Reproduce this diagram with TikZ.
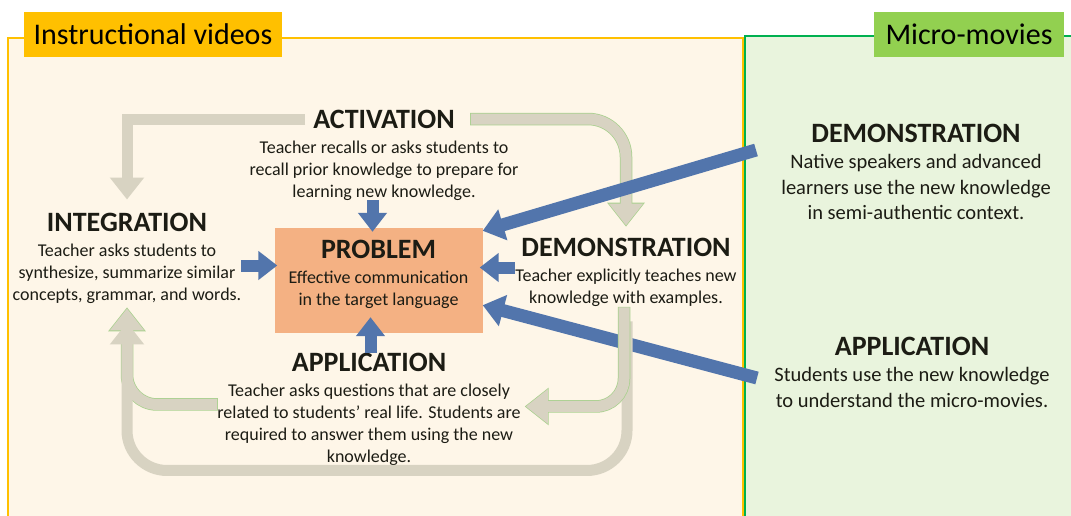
\documentclass[tikz,border=0pt]{standalone}
\usepackage{fontspec}
\setmainfont{Carlito}
\usetikzlibrary{arrows.meta,positioning}

\definecolor{framegold}{RGB}{255,192,0}
\definecolor{framegreen}{RGB}{0,176,80}
\definecolor{labelgreen}{RGB}{146,208,80}
\definecolor{videobg}{RGB}{254,246,232}
\definecolor{moviebg}{RGB}{233,244,221}
\definecolor{probfill}{RGB}{244,177,131}
\definecolor{loopgray}{RGB}{216,211,194}
\definecolor{loopedge}{RGB}{169,209,142}
\definecolor{pushblue}{RGB}{82,117,172}
\definecolor{ink}{RGB}{28,28,20}

\begin{document}
\begin{tikzpicture}[
  x = 1pt, y = -1pt,
  node distance = 12pt and 12pt,
  stagehead/.style = {inner sep=0pt, text=ink,
                      font=\fontsize{28}{30}\selectfont\bfseries},
  stagetext/.style = {inner sep=0pt, text=ink, align=center,
                      font=\fontsize{18}{22}\selectfont},
  movietext/.style = {inner sep=0pt, text=ink, align=center,
                      font=\fontsize{20.5}{25.5}\selectfont},
  paneltab/.style  = {minimum height=45pt, inner sep=0pt, text=black,
                      font=\fontsize{30}{32}\selectfont},
  loopline/.style  = {draw=loopgray, line width=11pt,
                      -{Triangle[length=22pt,width=33pt]}},
  edged/.style     = {preaction={draw=loopedge, line width=12.5pt,
                      shorten >=-1.2pt, shorten <=-0.7pt,
                      -{Triangle[length=24pt,width=36pt]}}},
  push/.style      = {draw=pushblue, line width=12pt,
                      -{Triangle[length=19pt,width=28pt]}},
  longpush/.style  = {draw=pushblue, line width=13pt,
                      -{Triangle[length=21pt,width=31pt]}}
]
\useasboundingbox (0,0) rectangle (1071,515);
\clip (0,0) rectangle (1071,515);
\fill[white] (0,0) rectangle (1071,515);

% the two panels
\fill[videobg] (8,38) rectangle (743,530);
\draw[framegold, line width=2.5pt] (8,530) -- (8,38) -- (743,38) -- (743,530);
\fill[moviebg] (745,36) rectangle (1080,530);
\draw[framegreen, line width=2pt] (745,530) -- (745,36) -- (1080,36);

\node[paneltab, fill=framegold, minimum width=258pt] (videotab) at (153,34.5) {Instructional videos};
\node[paneltab, fill=labelgreen, minimum width=190pt] (movietab) at (969,34) {Micro-movies};

% problem box in the middle
\node[fill=probfill, minimum width=208pt, minimum height=105pt, inner sep=0pt] (problem) at (378.5,280.5) {};
\node[stagehead] (probhead) at (378.5,249) {PROBLEM};
\node[stagetext, below=of probhead] (probtext) {Effective communication\\in the target language};

% stages round it
\node[stagehead] (activ) at (384,119) {ACTIVATION};
\node[stagetext, below=of activ] (activtext) {Teacher recalls or asks students to\\recall prior knowledge to prepare for\\learning new knowledge.};
\node[stagehead] (integ) at (127,222) {INTEGRATION};
\node[stagetext, below=of integ] (integtext) {Teacher asks students to\\synthesize, summarize similar\\concepts, grammar, and words.};
\node[stagehead] (demo) at (626,247) {DEMONSTRATION};
\node[stagetext, below=of demo] (demotext) {Teacher explicitly teaches new\\knowledge with examples.};
\node[stagehead] (appl) at (369,362) {APPLICATION};
\node[stagetext, below=of appl] (appltext) {Teacher asks questions that are closely\\related to students’ real life. Students are\\required to answer them using the new\\knowledge.};

% micro-movie stages
\node[stagehead] (mdemo) at (916,133) {DEMONSTRATION};
\node[movietext, below=of mdemo] (mdemotext) {Native speakers and advanced\\learners use the new knowledge\\in semi-authentic context.};
\node[stagehead] (mappl) at (912,346) {APPLICATION};
\node[movietext, below=of mappl] (mappltext) {Students use the new knowledge\\to understand the micro-movies.};

\coordinate (mdemotail) at (756,150);
\coordinate (mappltail) at (757,378);

\draw[longpush] (mappltail) -- ([yshift=28pt]problem.south east);

% the cycle
\draw[loopline] ([xshift=-8pt]activ.west) -| ([yshift=13pt]integ.north);
\draw[loopline, edged, rounded corners=38pt] ([xshift=16pt]activ.east) -| ([yshift=12pt]demo.north);
\draw[loopline, edged, rounded corners=30pt] ([yshift=20pt]appltext.west) -| ([yshift=-5pt]integtext.south);
\draw[loopline, rounded corners=40pt] ([xshift=1pt,yshift=-15pt]demotext.south) -- ++(0,149) -| ([yshift=-19pt]integtext.south);
\draw[loopline, edged, rounded corners=28pt] ([xshift=-2pt,yshift=-1pt]demotext.south) |- ([xshift=5pt,yshift=18pt]appltext.east);

% everything feeds the problem
\draw[longpush] (mdemotail) -- ([yshift=-3pt]problem.north east);
\draw[push] ([xshift=-6pt]problem.north |- activtext.south) -- ([xshift=-6pt,yshift=-4pt]problem.north);
\draw[push] ([yshift=15pt]problem.west -| integtext.east) -- ([yshift=15pt,xshift=3pt]problem.west);
\draw[push] ([yshift=13pt]problem.east -| demotext.west) -- ([yshift=13pt,xshift=-3pt]problem.east);
\draw[push] ([xshift=-8pt]problem.south |- appl.north) -- ([xshift=-8pt,yshift=16pt]problem.south);
\end{tikzpicture}
\end{document}
